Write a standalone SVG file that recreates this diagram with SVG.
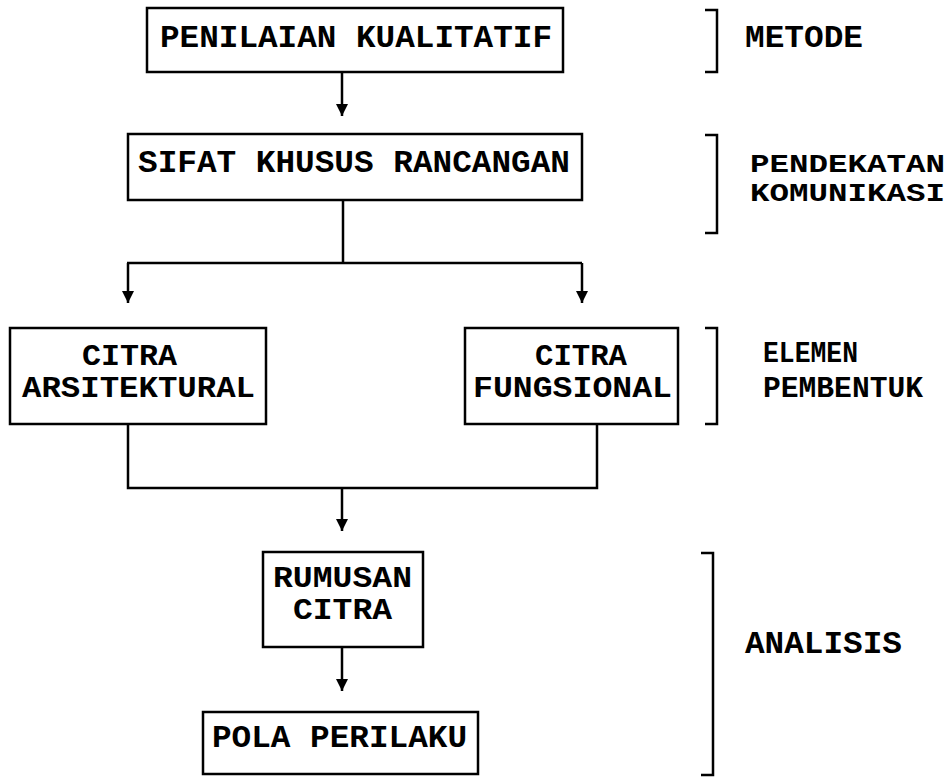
<svg xmlns="http://www.w3.org/2000/svg" width="951" height="777" viewBox="0 0 951 777">
<style>
.box{fill:#fff;stroke:#000;stroke-width:2.5}
.ln{fill:none;stroke:#000;stroke-width:2.5}
.br{fill:none;stroke:#000;stroke-width:2.5}
text{font-family:"Liberation Mono","Courier New",monospace;font-weight:bold;font-size:31px;fill:#000}
.sm{font-size:25px}
.md{font-size:29px}
</style>
<defs>
<marker id="ah" viewBox="0 0 10 10" refX="10" refY="5" markerWidth="5" markerHeight="5" orient="auto" markerUnits="strokeWidth">
<path d="M0,0 L10,5 L0,10 z" fill="#000"/>
</marker>
</defs>
<rect width="951" height="777" fill="#fff"/>
<g id="connectors">
<path class="ln" d="M342,72 V116" marker-end="url(#ah)"/>
<path class="ln" d="M343,200 V263"/>
<path class="ln" d="M127,263 H582"/>
<path class="ln" d="M128,263 V303" marker-end="url(#ah)"/>
<path class="ln" d="M582,263 V303" marker-end="url(#ah)"/>
<path class="ln" d="M128,424 V488 H597 V424"/>
<path class="ln" d="M342,488 V531" marker-end="url(#ah)"/>
<path class="ln" d="M342,647 V691" marker-end="url(#ah)"/>
</g>
<g id="n1"><rect class="box" x="147" y="8" width="416" height="64"/><text x="160" y="47" textLength="392" lengthAdjust="spacingAndGlyphs">PENILAIAN KUALITATIF</text></g>
<g id="n2"><rect class="box" x="128" y="134" width="454" height="66"/><text x="138" y="172" textLength="432" lengthAdjust="spacingAndGlyphs">SIFAT KHUSUS RANCANGAN</text></g>
<g id="n3"><rect class="box" x="10" y="328" width="256" height="96"/><text class="md" x="82" y="365" textLength="95" lengthAdjust="spacingAndGlyphs">CITRA</text><text class="md" x="22" y="397" textLength="233" lengthAdjust="spacingAndGlyphs">ARSITEKTURAL</text></g>
<g id="n4"><rect class="box" x="465" y="328" width="213" height="96"/><text class="md" x="535" y="365" textLength="92" lengthAdjust="spacingAndGlyphs">CITRA</text><text class="md" x="473" y="397" textLength="199" lengthAdjust="spacingAndGlyphs">FUNGSIONAL</text></g>
<g id="n5"><rect class="box" x="263" y="552" width="160" height="95"/><text class="md" x="273" y="587" textLength="139" lengthAdjust="spacingAndGlyphs">RUMUSAN</text><text class="md" x="293" y="619" textLength="99" lengthAdjust="spacingAndGlyphs">CITRA</text></g>
<g id="n6"><rect class="box" x="203" y="712" width="275" height="62"/><text x="212" y="747" textLength="255" lengthAdjust="spacingAndGlyphs">POLA PERILAKU</text></g>
<g id="labels">
<path class="br" d="M705,10 H717 V72 H705"/>
<text x="745" y="47" textLength="118" lengthAdjust="spacingAndGlyphs">METODE</text>
<path class="br" d="M705,135 H717 V233 H705"/>
<text class="sm" x="750" y="172" textLength="195" lengthAdjust="spacingAndGlyphs">PENDEKATAN</text>
<text class="sm" x="750" y="201" textLength="195" lengthAdjust="spacingAndGlyphs">KOMUNIKASI</text>
<path class="br" d="M705,328 H717 V424 H705"/>
<text class="md" x="763" y="362" textLength="95" lengthAdjust="spacingAndGlyphs">ELEMEN</text>
<text class="md" x="763" y="397" textLength="160" lengthAdjust="spacingAndGlyphs">PEMBENTUK</text>
<path class="br" d="M701,553 H713 V775 H701"/>
<text x="745" y="653" textLength="157" lengthAdjust="spacingAndGlyphs">ANALISIS</text>
</g>
</svg>
